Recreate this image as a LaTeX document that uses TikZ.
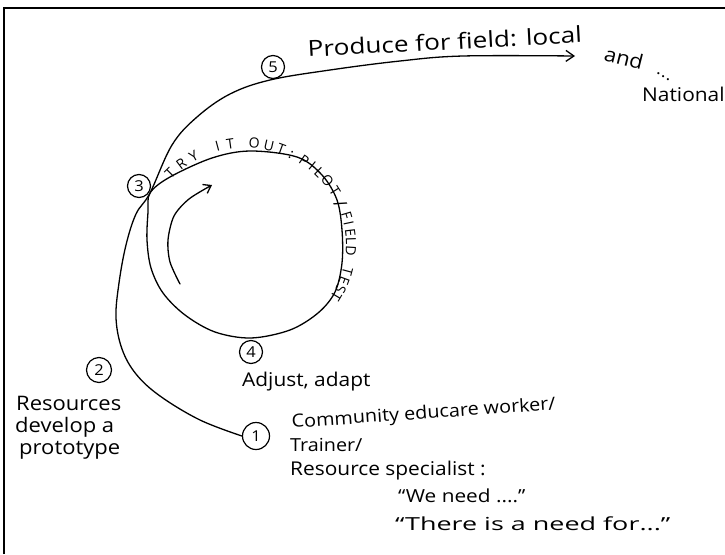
\documentclass[tikz,border=0pt]{standalone}
\usepackage{fontspec}
\setmainfont[FakeStretch=1.1]{Open Sans}
\newfontfamily\arcfont{Open Sans}
\usetikzlibrary{arrows.meta}
\newcommand{\fs}[1]{\fontsize{#1}{#1}\selectfont}
\begin{document}
\begin{tikzpicture}[x=1pt,y=-1pt,
  line/.style={line width=1.3pt, line cap=round, line join=round},
  numc/.style={circle, draw, line width=1.2pt, minimum size=23pt, inner sep=0pt, font=\fs{15}},
  hand/.style={inner sep=0pt, anchor=base west},
  arcl/.style={font=\arcfont\fs{14}, inner sep=0pt, anchor=base},
  barb/.style={-{Straight Barb[length=8pt,width=11pt,line width=1.3pt]}},
]
\useasboundingbox (0,0) rectangle (725,554);
\draw[line width=2.4pt] (4,554) -- (4,8) -- (725,8);

% numbered circles
\node[numc] (n5) at (273,67) {5};
\node[numc] (n3) at (139,186) {3};
\node[numc, minimum size=25pt] (n2) at (99,370) {2};
\node[numc] (n4) at (251,352) {4};
\node[numc, minimum size=27pt] (n1) at (256,436) {1};

\coordinate (x3) at (150,193);
\coordinate (endA) at (575,56);

% main curve
\draw[line, barb] plot[smooth, tension=0.6] coordinates {(n1.west) (200,420) (160,396) (136,374) (122,349) (116,318) (119,283) (126,245) (136,214) (x3) (172,145) (197,117) (230,94) (270,80) (330,70) (400,61) (463,56) (endA)};

% loop
\draw[line] plot[smooth cycle, tension=0.55] coordinates {(x3) (170,177) (212,158) (250,151) (297,157) (322,175) (337,200) (342,230) (342,263) (335,292) (318,313) (290,330) (251,338) (215,332) (185,315) (163,293) (151,268) (147,240) (148,212)};

% inner arrow
\draw[line, -{Straight Barb[length=7pt,width=10pt,line width=1.3pt]}] plot[smooth] coordinates {(180,284) (170,262) (168,240) (174,216) (189,199) (212,185)};

% text along loop
\foreach \c/\a [count=\i] in {T/135, R/127, Y/119, I/105, T/98, O/85, U/77, T/70, :/64, P/56, I/50.5, L/45.5, O/39, T/32, F/16.5, I/12, E/7, L/2, D/-3.5, T/-15, E/-20.5, S/-25.5, T/-30.5} {
  \node[arcl, rotate=\a-90] (L\i) at ({245+101*cos(\a)},{245-97*sin(\a)}) {\c};
}
\node[arcl, font=\arcfont\fs{18}, rotate=-66] (Lsl) at ({245+98*cos(24)},{245-94*sin(24)}) {/};

% texts
\node[hand, font=\fs{22}, rotate=3] (t5) at (308,57) {\scalebox{1.08}[1]{Produce for field: local}};
\node[hand, font=\fs{20}, rotate=-14] (tand) at (603,60) {and};
\node[hand, font=\fs{16}] (tdots) at (656,74) {.\raisebox{-3pt}{.}\raisebox{-6pt}{.}};
\node[hand, font=\fs{19}] (tnat) at (642,101) {National};

\node[hand, font=\fs{19}] (t4) at (242,386) {Adjust, adapt};
\node[hand, font=\fs{20}] (t2a) at (16,410) {Resources};
\node[hand, font=\fs{20}] (t2b) at (15,432) {develop a};
\node[hand, font=\fs{20}] (t2c) at (19,454) {prototype};
\node[hand, font=\fs{18}, rotate=4] (t1a) at (292,428) {Community educare worker/};
\node[hand, font=\fs{18}] (t1b) at (290,451) {Trainer/};
\node[hand, font=\fs{19}] (t1c) at (290,475) {Resource specialist :};
\node[hand, font=\fs{18}] (t1d) at (398,502) {\scalebox{1.05}[1]{“We need ....”}};
\node[hand, font=\fs{18}] (t1e) at (395,530) {\scalebox{1.36}[1]{“There is a need for...”}};
\end{tikzpicture}
\end{document}
